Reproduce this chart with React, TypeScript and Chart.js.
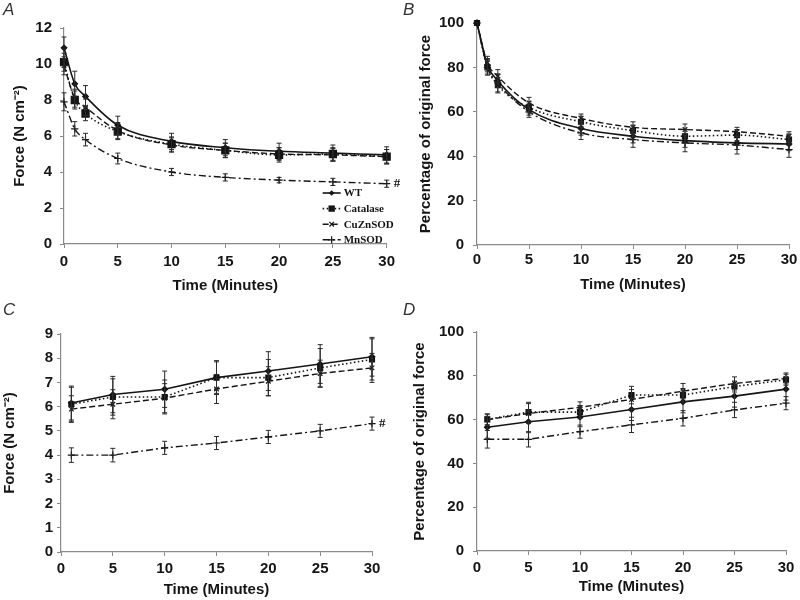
import React, { useEffect, useRef } from "react";
import { Chart, registerables } from "chart.js";
Chart.register(...registerables);

// ---------- data ----------
const seriesNames = ["WT", "Catalase", "CuZnSOD", "MnSOD"];
const timeAB = [0, 1, 2, 5, 10, 15, 20, 25, 30];
const timeCD = [1, 5, 10, 15, 20, 25, 30];

// Panel A – force (N cm-2) during fatigue
const forceA_WT = [10.9, 8.9, 8.2, 6.6, 5.7, 5.35, 5.15, 5.05, 4.95];
const forceA_Cat = [10.1, 8.0, 7.25, 6.25, 5.55, 5.2, 4.95, 5.0, 4.85];
const forceA_Cu = [9.9, 8.1, 7.6, 6.3, 5.5, 5.2, 5.0, 4.95, 4.85];
const forceA_Mn = [7.9, 6.4, 5.8, 4.75, 4.0, 3.7, 3.55, 3.45, 3.35];
const errA_WT = [0.6, 0.7, 0.6, 0.5, 0.45, 0.45, 0.45, 0.45, 0.45];
const errA_Cat = [0.5, 0.5, 0.4, 0.45, 0.4, 0.4, 0.4, 0.35, 0.4];
const errA_Cu = [0.5, 0.5, 0.45, 0.45, 0.4, 0.4, 0.35, 0.35, 0.4];
const errA_Mn = [0.5, 0.4, 0.35, 0.3, 0.2, 0.2, 0.15, 0.2, 0.2];

// Panel B – percentage of original force during fatigue
const pctB_WT = [100, 81, 74, 61, 52.5, 49, 47, 46, 45.5];
const pctB_Cat = [100, 80, 72, 62, 55.5, 51.5, 49, 49.5, 47.5];
const pctB_Cu = [100, 82, 76, 64, 57, 53, 52, 51, 49];
const pctB_Mn = [100, 80, 73, 60, 50.5, 47.5, 46, 45, 43];
const errB_WT = [0, 3, 3, 2.5, 3, 3, 3, 3, 3];
const errB_Cat = [0, 3, 3.5, 2.5, 2.5, 2.5, 3, 2.5, 2.5];
const errB_Cu = [0, 3, 3, 2.5, 2, 2.5, 2.5, 2, 2];
const errB_Mn = [0, 3.5, 4, 2.5, 3, 3.5, 4, 4, 3.5];

// Panel C – force (N cm-2) during recovery
const forceC_WT = [6.15, 6.5, 6.72, 7.2, 7.47, 7.76, 8.06];
const forceC_Cat = [6.1, 6.4, 6.4, 7.2, 7.2, 7.6, 7.95];
const forceC_Cu = [5.9, 6.1, 6.35, 6.73, 7.05, 7.37, 7.6];
const forceC_Mn = [4.0, 4.0, 4.3, 4.5, 4.75, 5.0, 5.3];
const errC_WT = [0.7, 0.75, 0.75, 0.7, 0.8, 0.8, 0.8];
const errC_Cat = [0.7, 0.75, 0.7, 0.65, 0.75, 0.8, 0.85];
const errC_Cu = [0.55, 0.6, 0.6, 0.6, 0.6, 0.55, 0.6];
const errC_Mn = [0.3, 0.28, 0.27, 0.27, 0.27, 0.27, 0.27];

// Panel D – percentage of original force during recovery
const pctD_WT = [56.5, 59, 61.2, 64.6, 68.1, 70.7, 73.9];
const pctD_Cat = [60.1, 63.4, 63.4, 71.2, 71.2, 75.1, 78.2];
const pctD_Cu = [60, 62.8, 65.6, 69.2, 73, 76.5, 78.8];
const pctD_Mn = [51, 51, 54.5, 57.6, 60.6, 64.4, 67.5];
const errD_WT = [5, 5, 4.5, 5, 5, 5, 5];
const errD_Cat = [2.5, 4.5, 3, 4, 3, 2.5, 2.5];
const errD_Cu = [2.5, 4.5, 2.5, 4.5, 3.5, 3, 2.5];
const errD_Mn = [4, 3.5, 3, 3.5, 3.5, 3.5, 3];

const xTickValues = [0, 5, 10, 15, 20, 25, 30];

// ---------- styles ----------
const INK = "#151515";
const AXIS = "#8a8a8a";
const FONT = "'Liberation Sans', Arial, sans-serif";

type Style = { dash: number[]; width: number; point: string; r: number };
const seriesStyles: Style[] = [
  { dash: [], width: 1.6, point: "rectRot", r: 2.8 },
  { dash: [1.5, 2.5], width: 1.6, point: "rect", r: 3.6 },
  { dash: [6, 3], width: 1.4, point: "crossRot", r: 3.2 },
  { dash: [7, 3, 2, 3], width: 1.4, point: "cross", r: 3.6 },
];

function drawMarker(ctx: CanvasRenderingContext2D, kind: string, r: number, x: number, y: number) {
  ctx.save();
  ctx.setLineDash([]);
  ctx.fillStyle = INK;
  ctx.strokeStyle = INK;
  ctx.lineWidth = 1.2;
  ctx.beginPath();
  if (kind === "rect") {
    const s = r * Math.SQRT1_2;
    ctx.rect(x - s, y - s, 2 * s, 2 * s);
    ctx.fill();
  } else if (kind === "rectRot") {
    ctx.moveTo(x, y - r);
    ctx.lineTo(x + r, y);
    ctx.lineTo(x, y + r);
    ctx.lineTo(x - r, y);
    ctx.closePath();
    ctx.fill();
  } else if (kind === "cross") {
    ctx.moveTo(x - r, y);
    ctx.lineTo(x + r, y);
    ctx.moveTo(x, y - r);
    ctx.lineTo(x, y + r);
    ctx.stroke();
  } else {
    const s = r * Math.SQRT1_2;
    ctx.moveTo(x - s, y - s);
    ctx.lineTo(x + s, y + s);
    ctx.moveTo(x + s, y - s);
    ctx.lineTo(x - s, y + s);
    ctx.stroke();
  }
  ctx.restore();
}

type PanelCfg = {
  left: number;
  top: number;
  letter: string;
  xs: number[];
  series: number[][];
  errors: number[][];
  yMax: number;
  yStep: number;
  yTitle: string;
  area: { left: number; right: number; top: number; bottom: number };
  smooth: boolean;
  legend: boolean;
  hash: boolean;
  xTickPad: number;
  xTitlePad: number;
  yTickPad: number;
  yTitlePad: number;
  catR: number;
};

const W = 400;
const H = 300;

function buildChart(canvas: HTMLCanvasElement, cfg: PanelCfg) {
  const errorBars = {
    id: "errorBars" + cfg.letter,
    afterDatasetsDraw(chart: any) {
      const ctx = chart.ctx as CanvasRenderingContext2D;
      const ys = chart.scales.y;
      chart.data.datasets.forEach((ds: any, di: number) => {
        const meta = chart.getDatasetMeta(di);
        const errs: number[] = ds.errors;
        ctx.save();
        ctx.strokeStyle = "#2a2a2a";
        ctx.lineWidth = 1;
        ctx.setLineDash([]);
        meta.data.forEach((pt: any, i: number) => {
          const v = ds.data[i].y;
          const e = errs[i];
          if (!e) return;
          const y1 = ys.getPixelForValue(v + e);
          const y2 = ys.getPixelForValue(v - e);
          ctx.beginPath();
          ctx.moveTo(pt.x, y1);
          ctx.lineTo(pt.x, y2);
          ctx.moveTo(pt.x - 2.5, y1);
          ctx.lineTo(pt.x + 2.5, y1);
          ctx.moveTo(pt.x - 2.5, y2);
          ctx.lineTo(pt.x + 2.5, y2);
          ctx.stroke();
        });
        ctx.restore();
      });
    },
  };

  const extras = {
    id: "extras" + cfg.letter,
    afterDraw(chart: any) {
      const ctx = chart.ctx as CanvasRenderingContext2D;
      const ca = chart.chartArea;
      if (cfg.hash) {
        const meta = chart.getDatasetMeta(3);
        const last = meta.data[meta.data.length - 1];
        ctx.save();
        ctx.fillStyle = INK;
        ctx.font = "bold 13px 'Liberation Serif', serif";
        ctx.textBaseline = "middle";
        ctx.textAlign = "left";
        ctx.fillText("#", last.x + 7, last.y);
        ctx.restore();
      }
      if (cfg.legend) {
        const x0 = ca.right - 64;
        const x1 = ca.right - 46;
        const yBase = ca.bottom - 51;
        seriesNames.forEach((name, i) => {
          const st = seriesStyles[i];
          const y = yBase + i * 15.6;
          ctx.save();
          ctx.strokeStyle = INK;
          ctx.lineWidth = st.width;
          ctx.setLineDash(st.dash);
          ctx.beginPath();
          ctx.moveTo(x0, y);
          ctx.lineTo(x1, y);
          ctx.stroke();
          ctx.restore();
          drawMarker(ctx, st.point, i === 1 ? 4.5 : st.r, (x0 + x1) / 2, y);
          ctx.save();
          ctx.fillStyle = INK;
          ctx.font = "bold 11px 'Liberation Serif', serif";
          ctx.textBaseline = "middle";
          ctx.textAlign = "left";
          ctx.fillText(name, x1 + 3, y + 0.5);
          ctx.restore();
        });
      }
    },
  };

  const datasets = cfg.series.map((vals, si) => {
    const st = seriesStyles[si];
    return {
      label: seriesNames[si],
      data: vals.map((v, i) => ({ x: cfg.xs[i], y: v })),
      errors: cfg.errors[si],
      borderColor: INK,
      backgroundColor: INK,
      borderWidth: st.width,
      borderDash: st.dash,
      pointStyle: st.point,
      pointRadius: si === 1 ? cfg.catR : st.r,
      pointBorderWidth: 1.2,
      pointBackgroundColor: INK,
      pointBorderColor: INK,
      cubicInterpolationMode: cfg.smooth ? "monotone" : "default",
      tension: 0,
      clip: false as any,
      fill: false,
    };
  });

  const tickFont = { family: FONT, size: 15, weight: "bold" as const };
  const titleFont = { family: FONT, size: 15, weight: "bold" as const };

  return new Chart(canvas, {
    type: "line",
    data: { datasets: datasets as any },
    plugins: [errorBars, extras],
    options: {
      animation: false,
      responsive: false,
      maintainAspectRatio: false,
      layout: {
        padding: { left: 0, top: cfg.area.top, right: W - cfg.area.right, bottom: 0 },
      },
      plugins: { legend: { display: false }, tooltip: { enabled: false } },
      scales: {
        x: {
          type: "linear",
          min: 0,
          max: 30,
          afterBuildTicks: (s: any) => {
            s.ticks = xTickValues.map((v) => ({ value: v }));
          },
          afterFit: (s: any) => {
            s.height = H - cfg.area.bottom;
          },
          ticks: { font: tickFont, color: INK, padding: cfg.xTickPad, maxRotation: 0, autoSkip: false },
          grid: { display: true, drawOnChartArea: false, drawTicks: true, tickLength: 4, color: AXIS },
          border: { display: true, color: AXIS, width: 1.2 },
          title: {
            display: true,
            text: "Time (Minutes)",
            font: titleFont,
            color: INK,
            padding: { top: 0, bottom: cfg.xTitlePad },
          },
        },
        y: {
          type: "linear",
          min: 0,
          max: cfg.yMax,
          ticks: { stepSize: cfg.yStep, font: tickFont, color: INK, padding: cfg.yTickPad },
          afterFit: (s: any) => {
            s.width = cfg.area.left;
          },
          grid: { display: true, drawOnChartArea: false, drawTicks: true, tickLength: 4, color: AXIS },
          border: { display: true, color: AXIS, width: 1.2 },
          title: {
            display: true,
            text: cfg.yTitle,
            font: titleFont,
            color: INK,
            padding: { top: cfg.yTitlePad, bottom: 0 },
          },
        },
      },
    } as any,
  });
}

const panels: PanelCfg[] = [
  {
    left: 0,
    top: 0,
    letter: "A",
    xs: timeAB,
    series: [forceA_WT, forceA_Cat, forceA_Cu, forceA_Mn],
    errors: [errA_WT, errA_Cat, errA_Cu, errA_Mn],
    yMax: 12,
    yStep: 2,
    yTitle: "Force (N cm\u207B\u00B2)",
    area: { left: 64, right: 387, top: 28, bottom: 244 },
    smooth: true,
    legend: true,
    hash: true,
    xTickPad: 5,
    xTitlePad: 5,
    yTickPad: 8,
    yTitlePad: 11,
    catR: 5,
  },
  {
    left: 400,
    top: 0,
    letter: "B",
    xs: timeAB,
    series: [pctB_WT, pctB_Cat, pctB_Cu, pctB_Mn],
    errors: [errB_WT, errB_Cat, errB_Cu, errB_Mn],
    yMax: 100,
    yStep: 20,
    yTitle: "Percentage of original force",
    area: { left: 77, right: 389, top: 23, bottom: 245 },
    smooth: true,
    legend: false,
    hash: false,
    xTickPad: 2,
    xTitlePad: 6,
    yTickPad: 9,
    yTitlePad: 17,
    catR: 3.5,
  },
  {
    left: 0,
    top: 300,
    letter: "C",
    xs: timeCD,
    series: [forceC_WT, forceC_Cat, forceC_Cu, forceC_Mn],
    errors: [errC_WT, errC_Cat, errC_Cu, errC_Mn],
    yMax: 9,
    yStep: 1,
    yTitle: "Force (N cm\u207B\u00B2)",
    area: { left: 61, right: 372, top: 34, bottom: 252 },
    smooth: false,
    legend: false,
    hash: true,
    xTickPad: 4,
    xTitlePad: 1,
    yTickPad: 4,
    yTitlePad: 1,
    catR: 3.5,
  },
  {
    left: 400,
    top: 300,
    letter: "D",
    xs: timeCD,
    series: [pctD_WT, pctD_Cat, pctD_Cu, pctD_Mn],
    errors: [errD_WT, errD_Cat, errD_Cu, errD_Mn],
    yMax: 100,
    yStep: 20,
    yTitle: "Percentage of original force",
    area: { left: 77, right: 386, top: 32, bottom: 251 },
    smooth: false,
    legend: false,
    hash: false,
    xTickPad: 4,
    xTitlePad: 4,
    yTickPad: 9,
    yTitlePad: 11,
    catR: 3.5,
  },
];

function Panel({ cfg }: { cfg: PanelCfg }) {
  const ref = useRef<HTMLCanvasElement | null>(null);
  useEffect(() => {
    if (!ref.current) return;
    const chart = buildChart(ref.current, cfg);
    return () => chart.destroy();
  }, [cfg]);
  return (
    <div style={{ position: "absolute", left: cfg.left, top: cfg.top, width: W, height: H }}>
      <canvas ref={ref} width={W} height={H} style={{ display: "block", width: W, height: H }} />
      <div
        style={{
          position: "absolute",
          left: 3,
          top: 0,
          fontFamily: FONT,
          fontStyle: "italic",
          fontSize: 17,
          color: "#333",
          lineHeight: "20px",
        }}
      >
        {cfg.letter}
      </div>
    </div>
  );
}

export default function App() {
  return (
    <div
      style={{
        position: "fixed",
        left: 0,
        top: 0,
        width: 800,
        height: 600,
        background: "#fff",
        overflow: "hidden",
      }}
    >
      {panels.map((p) => (
        <Panel key={p.letter} cfg={p} />
      ))}
    </div>
  );
}
